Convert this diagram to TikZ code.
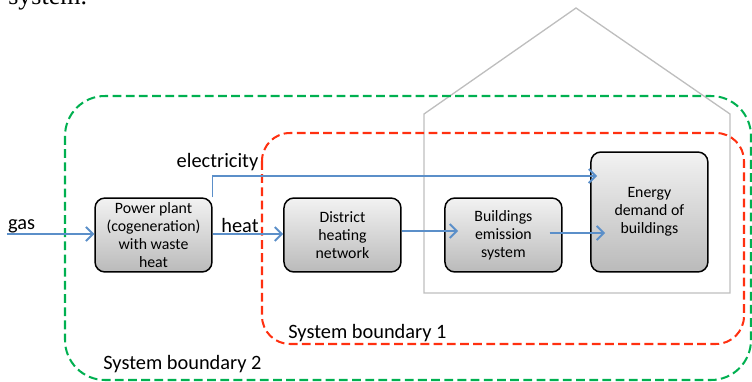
\documentclass[tikz,border=0pt]{standalone}
\usepackage{fontspec}
\setmainfont{Carlito}
\newfontfamily\bodyserif{Liberation Serif}
\usepackage{tikz}
\usetikzlibrary{arrows,arrows.meta}

\definecolor{flowblue}{RGB}{91,143,201}
\definecolor{bndgreen}{RGB}{0,176,80}
\definecolor{bndred}{RGB}{255,48,16}
\definecolor{housegray}{RGB}{190,190,190}

\begin{document}
\begin{tikzpicture}[x=0.02cm, y=-0.02cm, >={Straight Barb[length=4pt,width=8pt,line width=1.1pt]}]
			\tikzstyle{unit} = [draw, line width=0.85pt, rounded corners=0.2cm, top color=black!5, bottom color=black!27,
				minimum width=2.34cm, minimum height=1.48cm, inner sep=0pt, align=center,
				font=\fontsize{9}{10.2}\selectfont]
			\tikzstyle{flow} = [->, flowblue, line width=0.85pt]
			\tikzstyle{boundary} = [line width=1.15pt, dash pattern=on 5pt off 2.5pt, line cap=butt]
			\tikzstyle{tag} = [anchor=base, inner sep=0pt, font=\fontsize{11.6}{13}\selectfont]
			\useasboundingbox (0,0) rectangle (752,382);
			% cut-off text of the page above
			\node[anchor=base west, inner sep=0pt, font=\bodyserif\fontsize{14.8}{16}\selectfont] (caption) at (8,4.5) {system.};
			% house
			\draw[housegray, line width=0.75pt, line join=miter]
				(424,293) -- (424,114) -- (576,8) -- (730,114) -- (730,293) -- cycle;
			% boundaries
			\draw[boundary, bndgreen, rounded corners=0.8cm] (65,96) rectangle (751,380);
			\draw[boundary, bndred, rounded corners=0.56cm] (262,133) rectangle (744,344);
			\node[tag, anchor=base west] (sb2) at (103,369) {System boundary 2};
			\node[tag, anchor=base west] (sb1) at (288,338) {System boundary 1};
			% boxes
			\begin{scope}
			\path
			node[unit] (pp) at (153.5,235) {Power plant\\(cogeneration)\\with waste\\heat}
			node[unit, right of=pp, node distance=3.78cm] (dhn) {District\\heating\\network}
			node[unit, right of=dhn, node distance=3.22cm] (bes) {Buildings\\emission\\system}
			node[unit, minimum height=2.4cm, right of=bes, node distance=2.92cm, yshift=0.46cm] (edb) {Energy\\demand of\\buildings}
			;
			\end{scope}
			% flows
			\coordinate (gasin) at (7,234);
			\coordinate (bout) at ([xshift=-0.26cm,yshift=0.04cm]bes.east);
			\node[tag] (gas) at (21.5,230) {gas};
			\node[tag] (heat) at (240,233) {heat};
			\node[tag] (elec) at (217.5,167) {electricity};
			\draw[flow] (gasin) -- (pp.west |- gasin);
			\draw[flow] ([yshift=0.02cm]pp.east) -- ([yshift=0.02cm]dhn.west);
			\draw[flow, shorten >=-0.14cm] (pp.north east) |- ([yshift=0.72cm]edb.west);
			\draw[flow, shorten >=-0.28cm] ([yshift=0.08cm]dhn.east) -- ([yshift=0.08cm]bes.west);
			\draw[flow, shorten >=-0.3cm] (bout) -- (bout -| edb.west);
\end{tikzpicture}
\end{document}
